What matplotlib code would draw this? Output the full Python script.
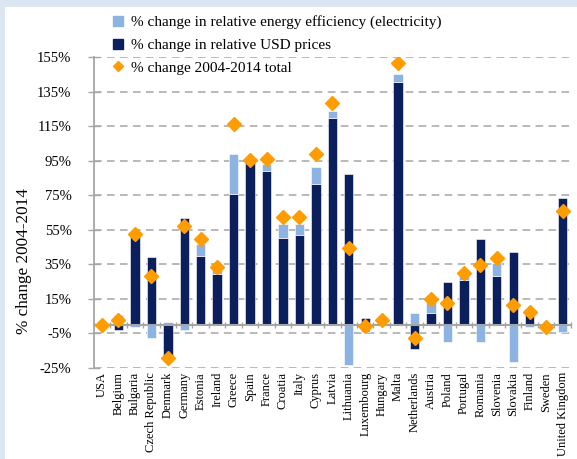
import numpy as np
import matplotlib
matplotlib.use('Agg')
import matplotlib.pyplot as plt
from matplotlib.lines import Line2D

countries = ["USA", "Belgium", "Bulgaria", "Czech Republic", "Denmark", "Germany",
             "Estonia", "Ireland", "Greece", "Spain", "France", "Croatia", "Italy",
             "Cyprus", "Latvia", "Lithuania", "Luxembourg", "Hungary", "Malta",
             "Netherlands", "Austria", "Poland", "Portugal", "Romania", "Slovenia",
             "Slovakia", "Finland", "Sweden", "United Kingdom"]
usd_prices = [0, -2.9, 52.3, 39.0, -19.2, 61.9, 39.8, 29.2, 75.9, 94.5, 89.3, 50.3,
              51.9, 81.3, 119.9, 87.2, 3.8, 0.5, 140.3, -14.0, 6.9, 24.6, 25.9, 49.6,
              28.4, 41.9, 6.7, 0, 73.2]
efficiency = [0, 5.6, -1.0, -7.9, 1.5, -2.9, 6.7, 3.3, 22.9, 0.3, 3.7, 8.3, 6.7, 9.8,
              3.8, -23.1, -4.0, 1.5, 4.8, 6.9, 7.3, -9.8, 3.7, -9.8, 7.3, -21.3, -1.0,
              0, -4.4]
total = [0, 2.7, 52.6, 28.4, -19.2, 57.1, 49.4, 33.4, 116.0, 95.5, 96.1, 62.6, 62.6,
         98.8, 128.3, 44.2, -0.6, 2.9, 151.6, -7.7, 14.8, 12.7, 30.2, 34.8, 38.4, 11.7,
         7.5, -1.0, 65.9]
yticks = [-25, -5, 15, 35, 55, 75, 95, 115, 135, 155]

navy = '#0B1F5C'
light = '#8DB3E2'
orange = '#FF9C00'
grey = '#A6A6A6'

plt.rcParams['font.family'] = ['Liberation Serif', 'DejaVu Serif']

fig = plt.figure(figsize=(5.77, 4.59), dpi=100, facecolor='#DCE6F2')
# white panel inside the light blue frame
fig.patches.append(plt.Rectangle((5/577, 0), 1, 1 - 7/459, transform=fig.transFigure,
                                 facecolor='white', edgecolor='none', zorder=-1))
ax = fig.add_axes([93.8/577, 1 - 368/459, 477/577, (368 - 57)/459])
ax.set_facecolor('none')

x = np.arange(len(countries))
p = np.array(usd_prices)
e = np.array(efficiency)
e_bottom = np.where(np.sign(e) == np.sign(p), p, 0)

ax.bar(x, p, width=0.57, color=navy, edgecolor='white', linewidth=0.4, zorder=3)
ax.bar(x, e, bottom=e_bottom, width=0.57, color=light, edgecolor='white',
       linewidth=0.4, zorder=3)
ax.plot(x, total, linestyle='none', marker='D', markersize=7.5, color=orange,
        markeredgecolor=orange, zorder=5)

ax.set_xlim(-0.5, len(countries) - 0.5)
ax.set_ylim(-25, 155)
ax.set_yticks(yticks)
ax.set_yticklabels(['%d%%' % v for v in yticks], fontsize=10.5)
ax.yaxis.grid(True, color=grey, linestyle=(0, (5, 3.5)), linewidth=1.1)
ax.set_axisbelow(True)

for s in ['top', 'right']:
    ax.spines[s].set_visible(False)
ax.spines['left'].set_color(grey)
ax.spines['left'].set_linewidth(1.3)
ax.spines['bottom'].set_position(('data', 0))
ax.spines['bottom'].set_color(grey)
ax.spines['bottom'].set_linewidth(1.5)
ax.spines['bottom'].set_zorder(4)

ax.tick_params(axis='y', direction='inout', length=8, width=1, color=grey, pad=12)
ax.set_xticks(x)
ax.set_xticklabels(countries, rotation=90, fontsize=9, va='top', ha='center')
ax.tick_params(axis='x', which='major', length=0, pad=34)
ax.set_xticks(np.arange(len(countries) + 1) - 0.5, minor=True)
ax.tick_params(axis='x', which='minor', direction='inout', length=5, width=1, color=grey)

ax.set_ylabel('% change 2004-2014', fontsize=12.3)
ax.yaxis.set_label_coords(-0.13, 0.345)

handles = [Line2D([], [], linestyle='none', marker='s', markersize=7.5, color=light),
           Line2D([], [], linestyle='none', marker='s', markersize=7.5, color=navy),
           Line2D([], [], linestyle='none', marker='D', markersize=5.5, color=orange)]
labels = ['% change in relative energy efficiency (electricity)',
          '% change in relative USD prices',
          '% change 2004-2014 total']
fig.legend(handles, labels, loc='upper left', bbox_to_anchor=(106/577, 1 - 9/459),
           frameon=False, fontsize=11, handlelength=0.8, handletextpad=0.45,
           labelspacing=0.6, borderaxespad=0)

plt.savefig('out.png', dpi=100, facecolor=fig.get_facecolor())
plt.close(fig)
